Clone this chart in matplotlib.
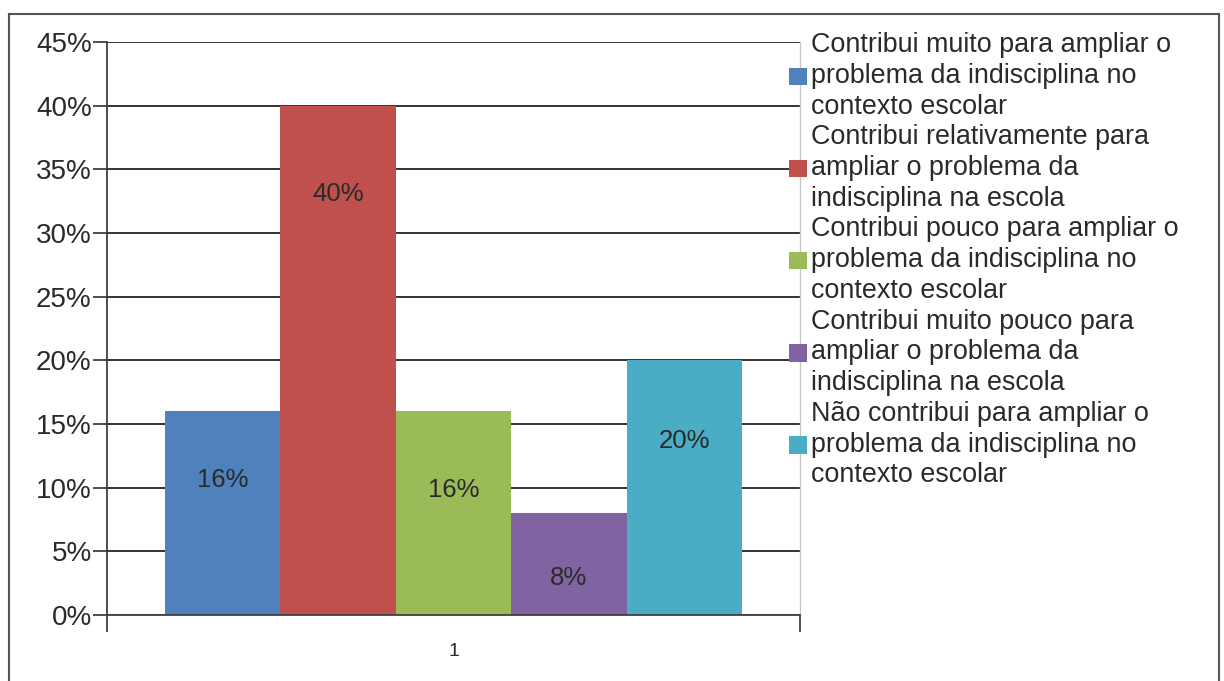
import matplotlib.pyplot as plt
from matplotlib.lines import Line2D
from matplotlib.patches import Patch

plt.rcParams["font.family"] = ["Liberation Sans", "DejaVu Sans"]

categories = [
    "Contribui muito para ampliar o\nproblema da indisciplina no\ncontexto escolar",
    "Contribui relativamente para\nampliar o problema da\nindisciplina na escola",
    "Contribui pouco para ampliar o\nproblema da indisciplina no\ncontexto escolar",
    "Contribui muito pouco para\nampliar o problema da\nindisciplina na escola",
    "Não contribui para ampliar o\nproblema da indisciplina no\ncontexto escolar",
]
values = [16, 40, 16, 8, 20]
value_labels = ["16%", "40%", "16%", "8%", "20%"]
# label heights as placed in the source chart (in % units)
label_y = [10.6, 33.1, 9.8, 2.9, 13.7]
colors = ["#4F81BD", "#C0504D", "#9BBB59", "#8064A2", "#4BACC6"]
yticks = [0, 5, 10, 15, 20, 25, 30, 35, 40, 45]

W, H = 1224, 681
fig = plt.figure(figsize=(W / 100, H / 100), dpi=100)
ax = fig.add_axes([107 / W, 1 - 615 / H, (800 - 107) / W, (615 - 42) / H])

n = len(values)
width = 0.8325 / n
start = 1 - width * n / 2
for i, (v, c) in enumerate(zip(values, colors)):
    x = start + width * (i + 0.5)
    ax.bar(x, v, width=width, color=c, edgecolor="none", zorder=2)
    ax.text(x, label_y[i], value_labels[i], ha="center", va="center",
            fontsize=18.5, color="#2a2a2a", zorder=3)

ax.set_xlim(0.5, 1.5)
ax.set_ylim(0, 45)
ax.set_yticks(yticks)
ax.set_yticklabels([f"{t}%" for t in yticks], fontsize=20, color="#2a2a2a")
ax.set_xticks([0.5, 1.5])
ax.set_xticklabels([])
ax.set_xticks([1], minor=True)
ax.set_xticklabels(["1"], minor=True, fontsize=14, color="#2a2a2a")
ax.tick_params(axis="x", which="minor", length=0, pad=20)
ax.tick_params(axis="x", which="major", length=12, width=1.3, color="#404040", direction="out")
ax.tick_params(axis="y", length=10, width=1.3, color="#404040", pad=1)

ax.yaxis.grid(True, color="#333333", linewidth=1.4, zorder=0)
ax.set_axisbelow(True)
ax.spines["top"].set_visible(False)
ax.spines["right"].set_color("#C8C8C8")
ax.spines["right"].set_linewidth(1.0)
ax.spines["left"].set_color("#404040")
ax.spines["left"].set_linewidth(1.3)
ax.spines["bottom"].set_color("#404040")
ax.spines["bottom"].set_linewidth(1.3)

handles = [Patch(facecolor=c, edgecolor="none") for c in colors]
leg = fig.legend(handles, categories, loc="upper left",
                 bbox_to_anchor=(789 / W, 1 - 32 / H), frameon=False,
                 fontsize=19.4, labelcolor="#2a2a2a", borderpad=0, borderaxespad=0,
                 handlelength=0.68, handleheight=0.62, handletextpad=0.12,
                 labelspacing=0.17)
for t in leg.get_texts():
    t.set_linespacing(1.24)

# outer frame of the original image
frame_kw = dict(color="#555555", linewidth=1.5, transform=fig.transFigure)
fig.add_artist(Line2D([9 / W, 9 / W], [0, 1 - 14 / H], **frame_kw))
fig.add_artist(Line2D([9 / W, 1219 / W], [1 - 14 / H, 1 - 14 / H], **frame_kw))
fig.add_artist(Line2D([1219 / W, 1219 / W], [0, 1 - 14 / H], **frame_kw))

fig.savefig("out.png", dpi=100)
